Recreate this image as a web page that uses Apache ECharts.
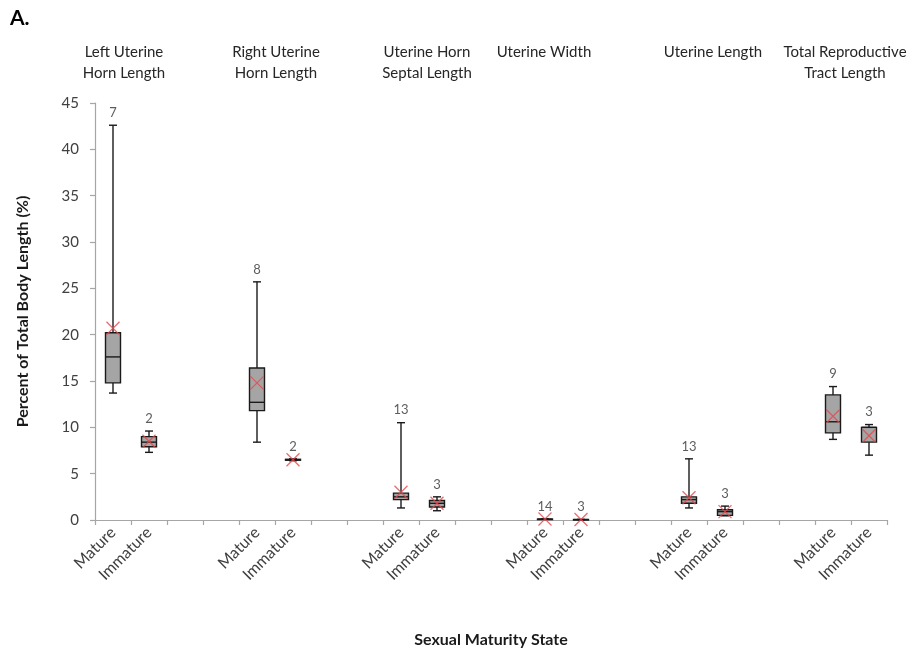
<!DOCTYPE html>
<html>
<head>
<meta charset="utf-8">
<script src="https://cdn.jsdelivr.net/npm/echarts@6/dist/echarts.min.js"></script>
<style>
html,body{margin:0;padding:0;background:#fff;}
#chart{width:924px;height:658px;}
</style>
</head>
<body>
<div id="chart"></div>
<script>
// ---- data ----
const groupTitles = ['Left Uterine\nHorn Length', 'Right Uterine\nHorn Length', 'Uterine Horn\nSeptal Length', 'Uterine Width', 'Uterine Length', 'Total Reproductive\nTract Length'];
const xLabels = ['Mature','Immature','','','Mature','Immature','','','Mature','Immature','','','Mature','Immature','','','Mature','Immature','','','Mature','Immature'];
const yTicks = [0,5,10,15,20,25,30,35,40,45];
const boxPos = [0,1,4,5,8,9,12,13,16,17,20,21];
const minV  = [13.7, 7.3,  8.4, 6.4,  1.3, 1.0, 0.1, 0.05, 1.3, 0.45, 8.7, 7.0];
const q1V   = [14.8, 7.9, 11.8, 6.45, 2.2, 1.4, 0.1, 0.05, 1.8, 0.5,  9.4, 8.4];
const medV  = [17.6, 8.4, 12.7, 6.5,  2.5, 1.8, 0.1, 0.05, 2.2, 0.9, 10.6, 10.0];
const q3V   = [20.2, 9.0, 16.4, 6.55, 2.9, 2.1, 0.1, 0.05, 2.5, 1.1, 13.5, 10.0];
const maxV  = [42.6, 9.6, 25.7, 6.6, 10.5, 2.5, 0.1, 0.05, 6.6, 1.5, 14.4, 10.3];
const meanV = [20.7, 8.5, 14.8, 6.5,  3.0, 1.8, 0.1, 0.05, 2.4, 0.9, 11.2, 9.1];
const nCount = [7, 2, 8, 2, 13, 3, 14, 3, 13, 3, 9, 3];

// ---- build ----
const boxData = boxPos.map((x, i) => [x, minV[i], q1V[i], medV[i], q3V[i], maxV[i]]);
const meanData = boxPos.map((x, i) => [x, meanV[i]]);
const countData = boxPos.map((x, i) => ({value: [x, maxV[i]], n: nCount[i]}));

const FONT = 'Lato';
const titleX = [124, 276, 427, 544, 713, 845];

const chart = echarts.init(document.getElementById('chart'), null, {renderer: 'canvas'});

function renderBox(params, api) {
  const x = api.value(0);
  const pMin = api.coord([x, api.value(1)]);
  const pQ1 = api.coord([x, api.value(2)]);
  const pMed = api.coord([x, api.value(3)]);
  const pQ3 = api.coord([x, api.value(4)]);
  const pMax = api.coord([x, api.value(5)]);
  const cx = pMed[0];
  const bw = 15, cw = 8;
  const stroke = {stroke: '#1a1a1a', lineWidth: 1.4};
  return {
    type: 'group',
    children: [
      {type: 'line', shape: {x1: cx, y1: pMax[1], x2: cx, y2: pQ3[1]}, style: stroke},
      {type: 'line', shape: {x1: cx, y1: pQ1[1], x2: cx, y2: pMin[1]}, style: stroke},
      {type: 'line', shape: {x1: cx - cw/2, y1: pMax[1], x2: cx + cw/2, y2: pMax[1]}, style: stroke},
      {type: 'line', shape: {x1: cx - cw/2, y1: pMin[1], x2: cx + cw/2, y2: pMin[1]}, style: stroke},
      {type: 'rect', shape: {x: cx - bw/2, y: pQ3[1], width: bw, height: Math.max(pQ1[1] - pQ3[1], 0.5)},
        style: {fill: '#a5a5a5', stroke: '#1a1a1a', lineWidth: 1.4}},
      {type: 'line', shape: {x1: cx - bw/2, y1: pMed[1], x2: cx + bw/2, y2: pMed[1]}, style: stroke}
    ]
  };
}

const option = {
  backgroundColor: '#ffffff',
  animation: false,
  grid: {left: 95, right: 37, top: 103, bottom: 138, containLabel: false},
  xAxis: {
    type: 'category',
    data: xLabels,
    boundaryGap: true,
    name: 'Sexual Maturity State',
    nameLocation: 'middle',
    nameGap: 112,
    nameTextStyle: {fontFamily: FONT, fontWeight: 'bold', fontSize: 16, color: '#1a1a1a'},
    axisLine: {lineStyle: {color: '#a6a6a6', width: 1.2}},
    axisTick: {show: true, interval: 0, length: 5, lineStyle: {color: '#a6a6a6', width: 1.2}},
    axisLabel: {interval: 0, rotate: 45, margin: 10, fontFamily: FONT, fontSize: 16, color: '#404040'},
    splitLine: {show: false}
  },
  yAxis: {
    type: 'value',
    min: 0, max: 45, interval: 5,
    name: 'Percent of Total Body Length (%)',
    nameLocation: 'middle',
    nameGap: 64,
    nameTextStyle: {fontFamily: FONT, fontWeight: 'bold', fontSize: 16, color: '#1a1a1a'},
    axisLine: {show: true, lineStyle: {color: '#a6a6a6', width: 1.2}},
    axisTick: {show: true, length: 5, lineStyle: {color: '#a6a6a6', width: 1.2}},
    axisLabel: {margin: 16, fontFamily: FONT, fontSize: 15, color: '#404040',
      formatter: v => (yTicks.indexOf(v) >= 0 ? String(v) : '')},
    splitLine: {show: false}
  },
  graphic: [
    {type: 'text', left: 10, top: 8, style: {text: 'A.', font: 'bold 21px ' + FONT, fill: '#000'}}
  ].concat(groupTitles.map((t, i) => ({
    type: 'text', x: titleX[i], y: 42,
    style: {text: t, font: '15px ' + FONT, fill: '#262626', align: 'center', verticalAlign: 'top', lineHeight: 21}
  }))),
  series: [
    {type: 'custom', renderItem: renderBox, data: boxData, encode: {x: 0, y: [1,2,3,4,5]}, z: 2},
    {type: 'scatter', data: meanData, symbol: 'path://M0,0L10,10M10,0L0,10', symbolSize: 13,
      itemStyle: {color: 'rgba(0,0,0,0)', borderColor: '#e8474b', borderWidth: 1.3}, z: 3},
    {type: 'scatter', data: countData, symbolSize: 0, z: 4,
      label: {show: true, position: 'top', distance: 6, fontFamily: FONT, fontSize: 13, color: '#333',
        formatter: p => String(p.data.n)}}
  ]
};
chart.setOption(option);
</script>
</body>
</html>
